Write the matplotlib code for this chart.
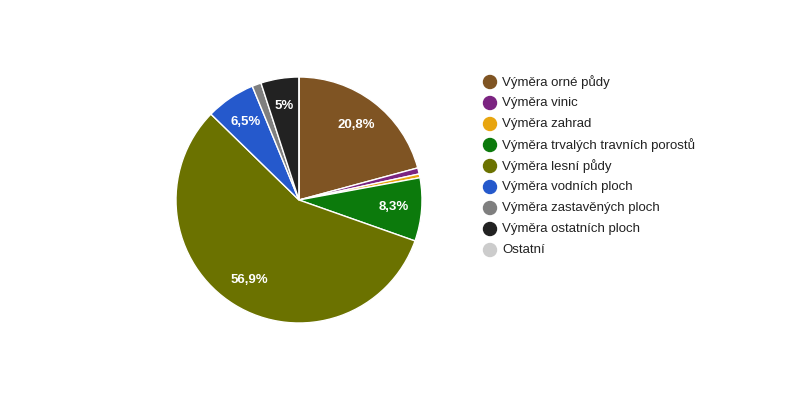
import matplotlib
matplotlib.use("Agg")
import matplotlib.pyplot as plt
from matplotlib.patches import Circle

plt.rcParams['font.family'] = ['Liberation Sans', 'DejaVu Sans']

# land use shares (percent)
labels = ['Výměra orné půdy', 'Výměra vinic', 'Výměra zahrad',
          'Výměra trvalých travních porostů', 'Výměra lesní půdy',
          'Výměra vodních ploch', 'Výměra zastavěných ploch',
          'Výměra ostatních ploch', 'Ostatní']
values = [20.8, 0.8, 0.5, 8.3, 56.9, 6.5, 1.2, 5.0, 0.0]
colors = ['#7f5423', '#7b2481', '#e8a50f', '#0c7a0c', '#6b7200',
          '#2559cc', '#7f7f7f', '#222222', '#cccccc']

W, H = 800, 400
fig = plt.figure(figsize=(8, 4), dpi=100)

cx, cy, r = 299, 200, 123
ax = fig.add_axes([(cx - r) / W, (H - cy - r) / H, 2 * r / W, 2 * r / H])

def fmt(p):
    if p < 4.5:
        return ''
    s = f'{p:.1f}'.rstrip('0').rstrip('.')
    return s.replace('.', ',') + '%'

wedges, texts, autotexts = ax.pie(
    values, colors=colors, startangle=90, counterclock=False,
    autopct=fmt, pctdistance=0.77, normalize=True,
    wedgeprops=dict(edgecolor='white', linewidth=1),
    textprops=dict(color='white', fontsize=9.5, fontweight='bold'))
ax.set_xlim(-1, 1)
ax.set_ylim(-1, 1)
ax.set_aspect('equal')

# legend drawn by hand
lx, ly, step = 490, 82, 21
for i, (lab, col) in enumerate(zip(labels, colors)):
    y = ly + i * step
    fig.patches.append(Circle((lx / W * W, (H - y)), 6.5, color=col,
                              transform=None, figure=fig))
    fig.text((lx + 12) / W, (H - y) / H, lab, fontsize=9.5, color='#222222',
             va='center', ha='left')

fig.savefig('out.png', dpi=100)
